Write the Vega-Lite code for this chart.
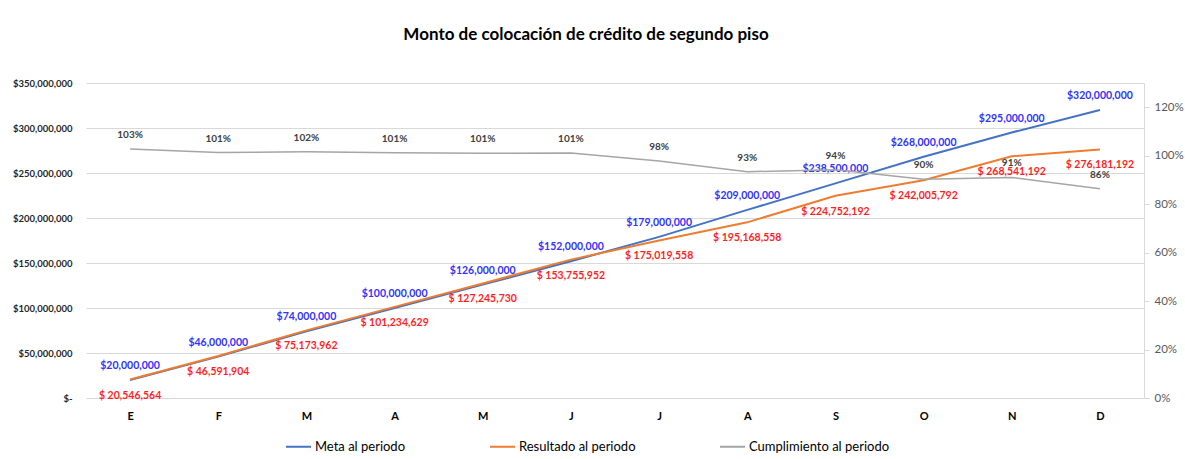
{
  "$schema": "https://vega.github.io/schema/vega-lite/v6.json",
  "autosize": {"type": "none"},
  "width": 1058,
  "height": 315,
  "padding": {"left": 86, "top": 83, "right": 41, "bottom": 61},
  "background": "white",
  "config": {
    "font": "Lato",
    "view": {"stroke": null},
    "axis": {"labelFont": "Lato", "gridColor": "#d9d9d9", "domainColor": "#d9d9d9", "tickColor": "#d9d9d9"}
  },
  "title": {
    "text": "Monto de colocación de crédito de segundo piso",
    "font": "Lato",
    "fontSize": 17,
    "fontWeight": "bold",
    "color": "#000000",
    "anchor": "middle",
    "dx": -29,
    "offset": 34
  },
  "data": {
    "values": [
      {"m": 1, "mes": "E", "meta": 20000000, "resultado": 20546564, "cumpl": 1.0273},
      {"m": 2, "mes": "F", "meta": 46000000, "resultado": 46591904, "cumpl": 1.0129},
      {"m": 3, "mes": "M", "meta": 74000000, "resultado": 75173962, "cumpl": 1.0159},
      {"m": 4, "mes": "A", "meta": 100000000, "resultado": 101234629, "cumpl": 1.0123},
      {"m": 5, "mes": "M", "meta": 126000000, "resultado": 127245730, "cumpl": 1.0099},
      {"m": 6, "mes": "J", "meta": 152000000, "resultado": 153755952, "cumpl": 1.0116},
      {"m": 7, "mes": "J", "meta": 179000000, "resultado": 175019558, "cumpl": 0.9778},
      {"m": 8, "mes": "A", "meta": 209000000, "resultado": 195168558, "cumpl": 0.9338},
      {"m": 9, "mes": "S", "meta": 238500000, "resultado": 224752192, "cumpl": 0.9424},
      {"m": 10, "mes": "O", "meta": 268000000, "resultado": 242005792, "cumpl": 0.903},
      {"m": 11, "mes": "N", "meta": 295000000, "resultado": 268541192, "cumpl": 0.9103},
      {"m": 12, "mes": "D", "meta": 320000000, "resultado": 276181192, "cumpl": 0.8631}
    ]
  },
  "encoding": {
    "x": {
      "field": "m",
      "type": "ordinal",
      "scale": {"type": "point", "padding": 0.5},
      "axis": {
        "title": null,
        "labelAngle": 0,
        "labelExpr": "['E','F','M','A','M','J','J','A','S','O','N','D'][datum.value - 1]",
        "labelFontWeight": "bold",
        "labelFontSize": 11,
        "labelColor": "#000000",
        "labelPadding": 12,
        "ticks": false,
        "domain": false,
        "grid": false
      }
    }
  },
  "layer": [
    {
      "encoding": {
        "y": {
          "type": "quantitative",
          "scale": {"domain": [0, 350000000], "nice": false},
          "axis": {
            "title": null,
            "values": [0, 50000000, 100000000, 150000000, 200000000, 250000000, 300000000, 350000000],
            "labelExpr": "datum.value == 0 ? '$-' : '$' + format(datum.value, ',')",
            "labelFontSize": 9.5,
            "labelFontWeight": "bold",
            "labelColor": "#262626",
            "labelPadding": 14,
            "labelOverlap": false,
            "ticks": false,
            "domain": false,
            "grid": true
          }
        }
      },
      "layer": [
        {
          "mark": {"type": "line", "strokeWidth": 2},
          "encoding": {
            "y": {"field": "meta"},
            "color": {
              "datum": "Meta al periodo",
              "scale": {
                "domain": ["Meta al periodo", "Resultado al periodo", "Cumplimiento al periodo"],
                "range": ["#4472c4", "#ed7d31", "#a5a5a5"]
              },
              "legend": {
                "title": null,
                "orient": "none",
                "direction": "horizontal",
                "legendX": 199,
                "legendY": 350,
                "symbolType": "stroke",
                "symbolSize": 625,
                "symbolStrokeWidth": 2,
                "labelFont": "Lato",
                "labelFontSize": 13,
                "labelColor": "#000000",
                "labelOffset": 3,
                "columnPadding": 80
              }
            }
          }
        },
        {
          "mark": {"type": "line", "strokeWidth": 2},
          "encoding": {
            "y": {"field": "resultado"},
            "color": {"datum": "Resultado al periodo"}
          }
        },
        {
          "mark": {"type": "text", "dy": -14, "fontSize": 10.5, "fontWeight": "bold", "color": "#3333ff"},
          "encoding": {
            "y": {"field": "meta"},
            "text": {"field": "meta", "type": "quantitative", "format": "$,"}
          }
        },
        {
          "transform": [{"calculate": "'$ ' + format(datum.resultado, ',')", "as": "lab"}],
          "mark": {"type": "text", "dy": 16, "fontSize": 10.5, "fontWeight": "bold", "color": "#ff1f1f"},
          "encoding": {
            "y": {"field": "resultado"},
            "text": {"field": "lab", "type": "nominal"}
          }
        }
      ]
    },
    {
      "encoding": {
        "y": {
          "type": "quantitative",
          "scale": {"domain": [0, 1.3], "nice": false},
          "axis": {
            "orient": "right",
            "title": null,
            "values": [0, 0.2, 0.4, 0.6, 0.8, 1.0, 1.2],
            "format": ".0%",
            "labelFontSize": 11.5,
            "labelColor": "#595959",
            "tickSize": 5,
            "labelPadding": 5,
            "domain": true,
            "grid": false
          }
        }
      },
      "layer": [
        {
          "mark": {"type": "line", "strokeWidth": 1.5},
          "encoding": {
            "y": {"field": "cumpl"},
            "color": {"datum": "Cumplimiento al periodo"}
          }
        },
        {
          "mark": {"type": "text", "dy": -14, "fontSize": 10, "fontWeight": "bold", "color": "#404040"},
          "encoding": {
            "y": {"field": "cumpl"},
            "text": {"field": "cumpl", "type": "quantitative", "format": ".0%"}
          }
        }
      ]
    }
  ],
  "resolve": {"scale": {"y": "independent"}}
}
